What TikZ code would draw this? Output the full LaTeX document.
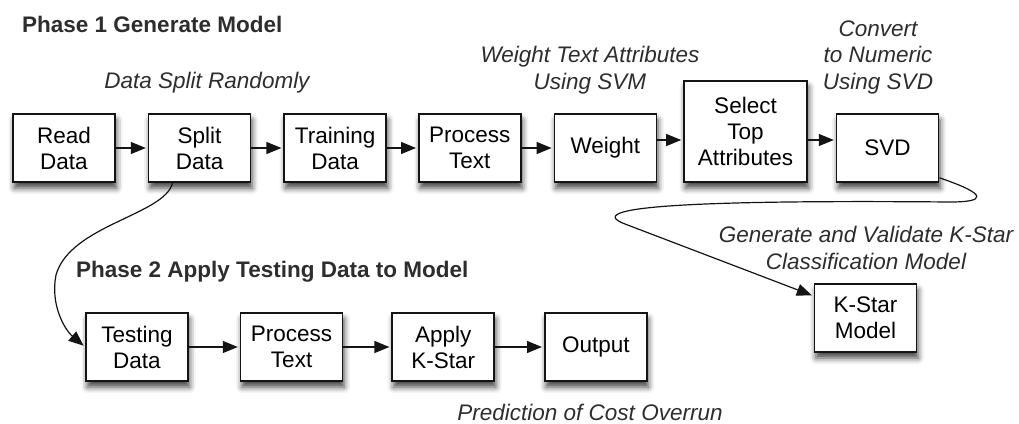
\documentclass[tikz,border=0pt]{standalone}
\usepackage{fontspec}
\setmainfont{Liberation Sans}
\usetikzlibrary{arrows.meta, positioning, shadows.blur}
\definecolor{boxLine}{RGB}{20,20,20}
\definecolor{lblGray}{RGB}{45,45,45}
\tikzset{
  box/.style={rectangle, draw=boxLine, fill=white, line width=1.6pt,
    minimum width=102pt, minimum height=68pt, inner sep=2pt,
    align=center, font=\fontsize{22.5}{26}\selectfont,
    blur shadow={shadow xshift=1.5pt, shadow yshift=-6pt,
      shadow blur radius=6pt, shadow opacity=75}},
  tallbox/.style={box, minimum width=123pt, minimum height=101pt},
  arr/.style={-{Triangle[length=15pt,width=12pt]}, line width=1.2pt,
    color=boxLine, shorten >=2pt},
  slabel/.style={font=\fontsize{22.5}{26.5}\selectfont\itshape,
    align=center, inner sep=0pt, text=lblGray},
  hlabel/.style={font=\fontsize{22.5}{26}\selectfont\bfseries,
    inner sep=0pt, anchor=west, text=lblGray},
}

\begin{document}
\begin{tikzpicture}[x=1pt, y=-1pt]
\useasboundingbox (0,0) rectangle (1019,423);

%% ── PHASE 1 ─────────────────────────────────────────────
\node[hlabel] (ph1) at (22,24) {Phase 1 Generate Model};

\node[box] (read) at (64,148) {Read\\Data};
\node[box, right=32pt of read] (split) {Split\\Data};
\node[box, right=32pt of split] (train) {Training\\Data};
\node[box, right=31pt of train] (proc) {Process\\Text};
\node[box, right=32pt of proc] (weight) {Weight};
\node[tallbox, anchor=south west] (select) at ([xshift=26pt]weight.south east)
  {Select\\Top\\Attributes};
\node[box, anchor=south west] (svd) at ([xshift=28pt]select.south east) {SVD};

\draw[arr] (read) -- (split);
\draw[arr] (split) -- (train);
\draw[arr] (train) -- (proc);
\draw[arr] (proc) -- (weight);
\draw[arr] ([yshift=8pt]weight.east) -- ([yshift=8pt]weight.east -| select.west);
\draw[arr] ([yshift=8pt]svd.west -| select.east) -- ([yshift=8pt]svd.west);

\node[slabel] (lsplit) at (207,83) {Data Split Randomly};
\node[slabel] (lweight) at (590,70) {Weight Text Attributes\\Using SVM};
\node[slabel] (lsvd) at (878,57) {Convert\\to Numeric\\Using SVD};

%% ── K-STAR MODEL ────────────────────────────────────────
\node[slabel] (lkstar) at (866,248)
  {Generate and Validate K-Star\\Classification Model};
\node[box] (kstar) at (865.5,318) {K-Star\\Model};

\draw[arr] ([yshift=5pt]svd.south east)
  .. controls (990,195) and (985,202) .. (950,202)
  .. controls (720,200) and (575,205) .. (625,224)
  -- ([yshift=22pt]kstar.west);

%% ── PHASE 2 ─────────────────────────────────────────────
\node[hlabel] (ph2) at (76,272) {Phase 2 Apply Testing Data to Model};

\node[box] (test) at (137,347) {Testing\\Data};
\node[box, right=51pt of test] (procB) {Process\\Text};
\node[box, right=48pt of procB] (apply) {Apply\\K-Star};
\node[box, right=49pt of apply] (output) {Output};

\draw[arr] ([xshift=-27pt]split.south)
  .. controls (165,215) and (70,225) .. (56,275)
  .. controls (50,305) and (65,330) .. (test.west);
\draw[arr] (test) -- (procB);
\draw[arr] (procB) -- (apply);
\draw[arr] (apply) -- (output);

\node[slabel] (lout) at (590,412) {Prediction of Cost Overrun};

\end{tikzpicture}
\end{document}
